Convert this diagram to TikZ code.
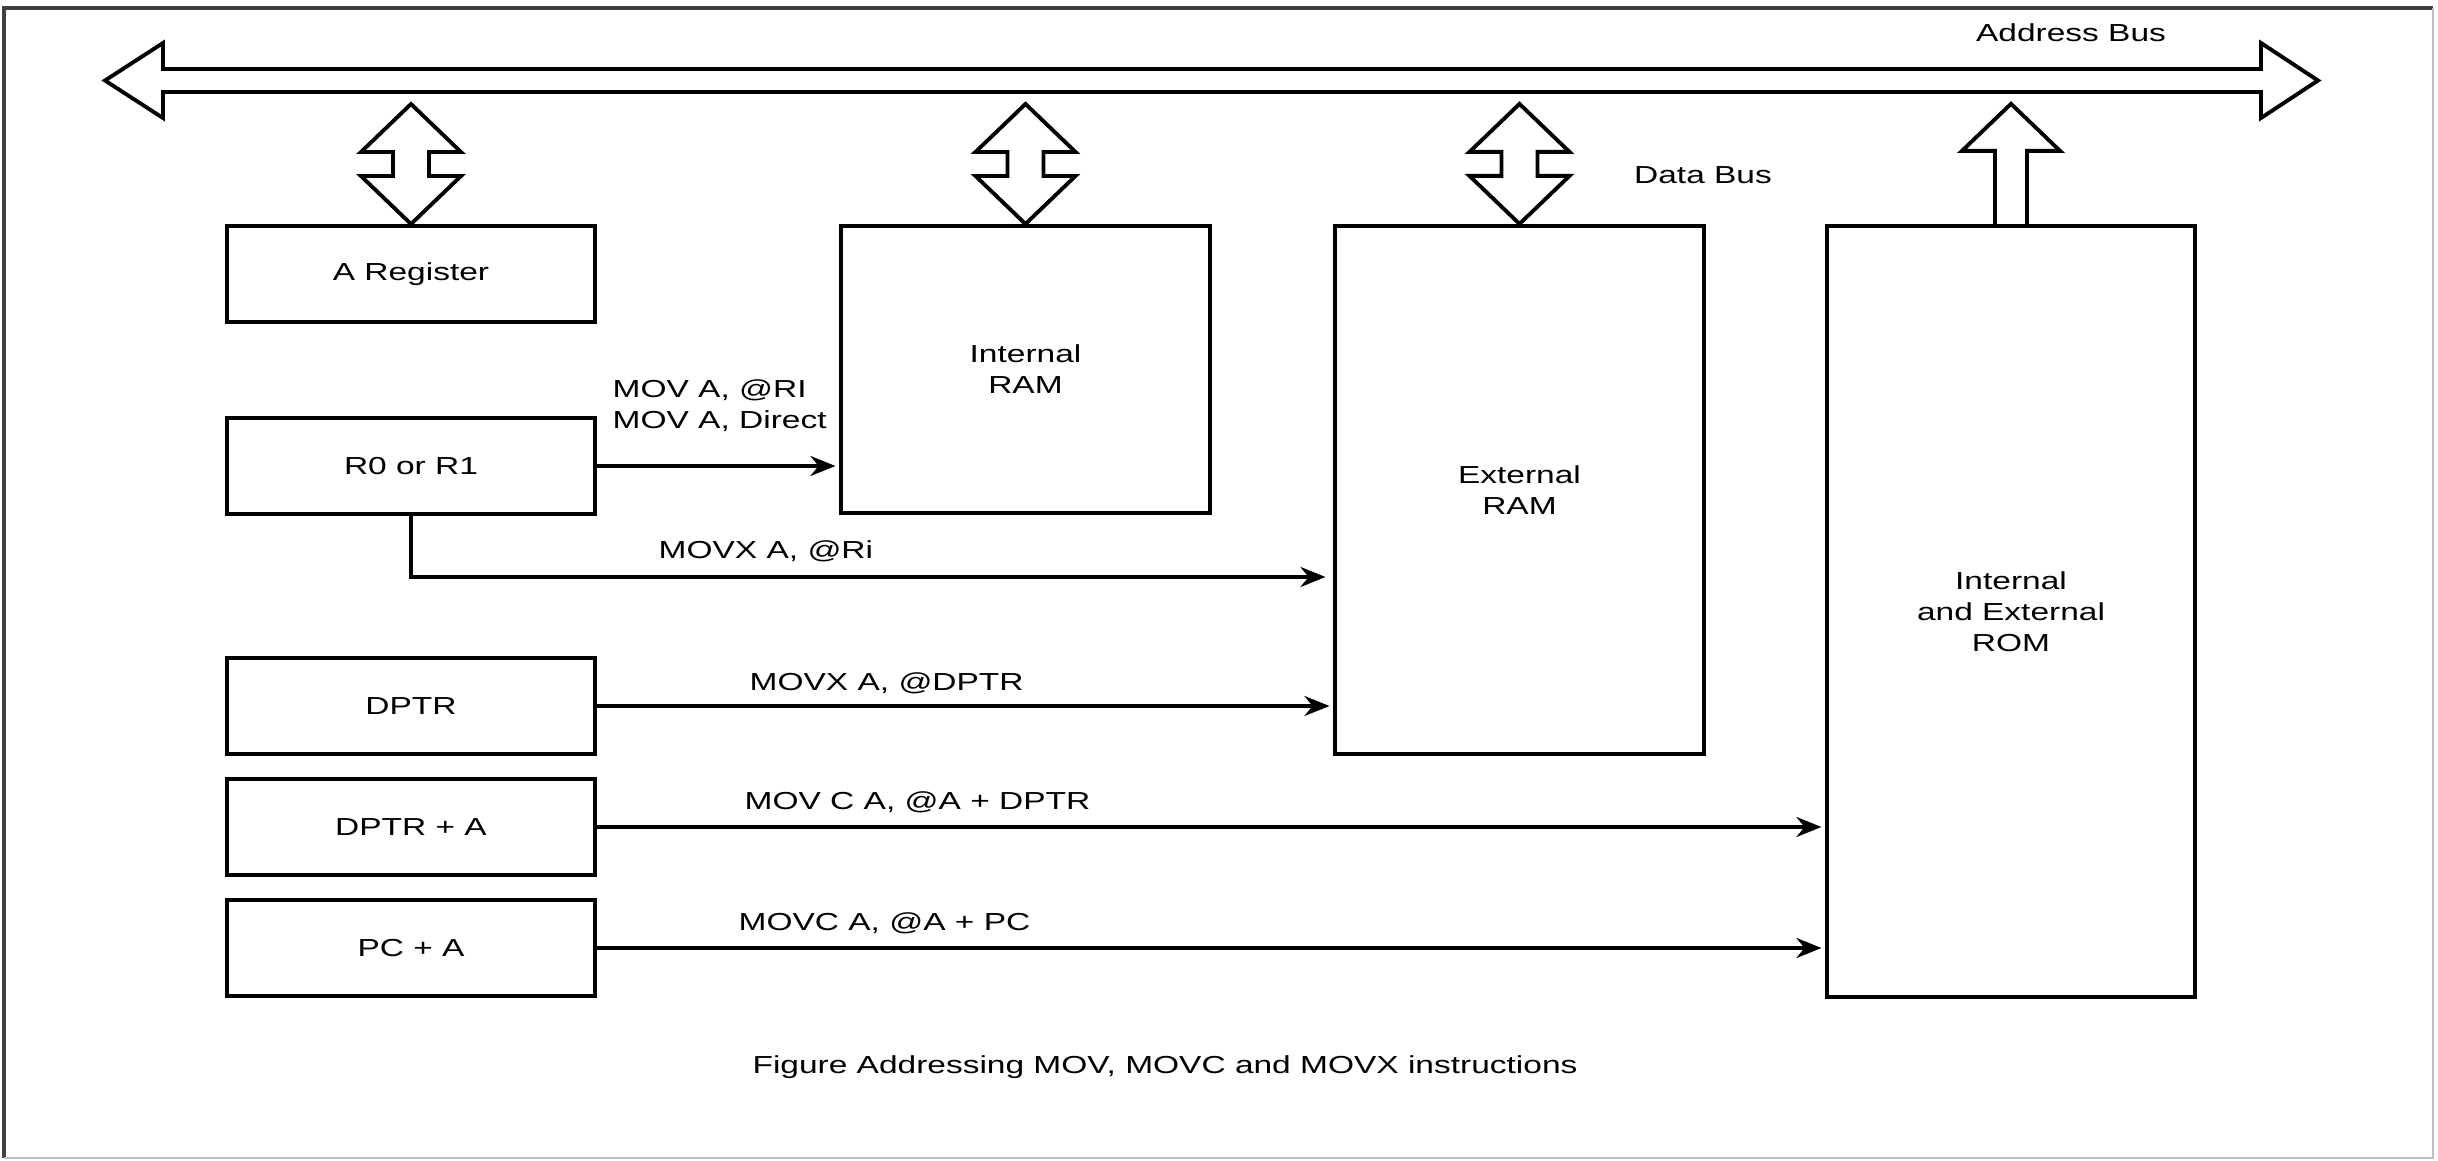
\documentclass[tikz,border=0pt]{standalone}
\usepackage{fontspec}
\setmainfont{Liberation Sans}[FakeStretch=1.36]
\usetikzlibrary{arrows.meta}

\tikzset{
  block/.style={draw, line width=1.1pt, minimum width=3.68cm, minimum height=0.96cm, inner sep=0pt, align=center},
  bus/.style={draw, line width=1.1pt, line join=miter},
  link/.style={line width=1pt, -{Stealth[length=2.5mm, width=2mm]}, shorten >=1pt},
  lbl/.style={anchor=west, inner sep=0pt, align=left},
}

\begin{document}
\begin{tikzpicture}[x=0.01cm, y=-0.01cm, font=\fontsize{7}{8.8}\selectfont]
    \useasboundingbox (0,0) rectangle (2438,1161);
    % frame
    \draw[black!75, line width=1pt] (4,1158) -- (4,8) -- (2433,8);
    \draw[black!25, line width=0.8pt] (4,1158) -- (2433,1158) -- (2433,8);

    % registers
    \node[block] (areg) at (411,274) {A Register};
    \node[block] (r0) at (411,466) {R0 or R1};
    \node[block] (dptr) at (411,706) {DPTR};
    \node[block] (dptra) at (411,827) {DPTR + A};
    \node[block] (pca) at (411,948) {PC + A};

    % memories
    \node[block, minimum width=3.69cm, minimum height=2.87cm] (iram) at (1025.5,369.5) {Internal\\RAM};
    \node[block, minimum width=3.69cm, minimum height=5.28cm] (xram) at (1519.5,490) {External\\RAM};
    \node[block, minimum height=7.71cm] (rom) at (2011,611.5) {Internal\\and External\\ROM};

    % buses
    \draw[bus] (105,80.5) -- (163,43) -- (163,69) -- (2261,69) -- (2261,43) -- (2318,80.5)
        -- (2261,118) -- (2261,92) -- (163,92) -- (163,118) -- cycle;
    \node (abus) at (2071,33) {Address Bus};

    \foreach \m in {areg,iram,xram}
        \draw[bus] (\m.north) -- ++(-50,-48) -- ++(32,0) -- ++(0,-24) -- ++(-32,0) -- ++(50,-48)
            -- ++(50,48) -- ++(-32,0) -- ++(0,24) -- ++(32,0) -- cycle;
    \draw[bus] (rom.north) ++(-16,0) -- ++(0,-73) -- ++(-33,0) -- ++(49,-47) -- ++(49,47)
        -- ++(-33,0) -- ++(0,73);
    \node (dbus) at (1703,175) {Data Bus};

    % instructions
    \coordinate (xin) at (1329,577);
    \draw[link] (r0.east) -- (r0.east -| iram.west);
    \draw[link] (r0.south) |- (xin);
    \draw[link] (dptr.east) -- (dptr.east -| xram.west);
    \draw[link] (dptra.east) -- (dptra.east -| rom.west);
    \draw[link] (pca.east) -- (pca.east -| rom.west);

    \node[lbl] (i1) at (612,406) {MOV A, @RI\\MOV A, Direct};
    \node[lbl] (i2) at (658,551) {MOVX A, @Ri};
    \node[lbl] (i3) at (749,683) {MOVX A, @DPTR};
    \node[lbl] (i4) at (744,802) {MOV C A, @A + DPTR};
    \node[lbl] (i5) at (738,923) {MOVC A, @A + PC};

    \node (cap) at (1165,1067) {Figure Addressing MOV, MOVC and MOVX instructions};
\end{tikzpicture}
\end{document}
